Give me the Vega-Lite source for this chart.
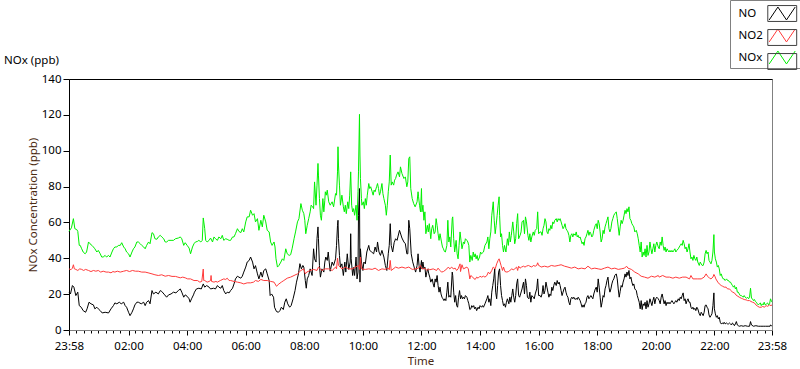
{
"$schema": "https://vega.github.io/schema/vega-lite/v6.json",
"width": 703, "height": 251,
"autosize": {"type": "none"},
"padding": {"left": 69, "top": 79, "right": 28, "bottom": 39},
"background": "white",
"config": {
 "font": "Noto Sans",
 "view": {"stroke": "#808080", "strokeWidth": 1},
 "axis": {"labelFont": "Noto Sans", "titleFont": "Noto Sans", "labelFontSize": 11.5, "titleFontSize": 11.5, "titleFontWeight": "normal", "grid": false, "labelColor": "black"},
 "legend": {"labelFont": "Noto Sans", "labelFontSize": 11.5, "labelColor": "black"}
},
"title": {"text": "NOx (ppb)", "anchor": "start", "frame": "group", "dx": -65, "dy": 78, "offset": 11, "fontSize": 11.5, "fontWeight": "normal", "font": "Noto Sans", "color": "black"},
"datasets": {
"no": [
{"t":-2,"v":21.1},{"t":1,"v":20.1},{"t":5,"v":24.8},{"t":8,"v":23.9},{"t":12,"v":19.2},{"t":16,"v":21.1},{"t":19,"v":13.6},{"t":23,"v":12.7},{"t":27,"v":10.8},{"t":32,"v":9.9},{"t":35,"v":11.8},{"t":39,"v":15.5},{"t":43,"v":14.6},{"t":48,"v":14},{"t":51,"v":11.8},{"t":55,"v":12.7},{"t":58,"v":11.8},{"t":62,"v":10.8},{"t":66,"v":9.5},{"t":72,"v":9.9},{"t":79,"v":9.5},{"t":84,"v":11.8},{"t":89,"v":13.6},{"t":92,"v":15.1},{"t":96,"v":14.6},{"t":101,"v":15.5},{"t":105,"v":14.6},{"t":110,"v":15.5},{"t":113,"v":13.6},{"t":116,"v":12.7},{"t":120,"v":9.9},{"t":123,"v":8},{"t":127,"v":9.9},{"t":130,"v":11.8},{"t":133,"v":14},{"t":137,"v":15.5},{"t":140,"v":15.5},{"t":146,"v":14.6},{"t":151,"v":15.5},{"t":154,"v":13.6},{"t":157,"v":15.5},{"t":161,"v":16.4},{"t":164,"v":14.6},{"t":168,"v":22},{"t":171,"v":20.1},{"t":176,"v":21.1},{"t":181,"v":20.1},{"t":185,"v":22},{"t":188,"v":21.5},{"t":194,"v":19.6},{"t":198,"v":18.3},{"t":202,"v":19.6},{"t":207,"v":20.1},{"t":212,"v":21.1},{"t":217,"v":20.7},{"t":222,"v":22},{"t":226,"v":22.9},{"t":229,"v":21.1},{"t":233,"v":18.3},{"t":236,"v":19.6},{"t":240,"v":18.8},{"t":244,"v":17.4},{"t":246,"v":15.5},{"t":249,"v":17.4},{"t":253,"v":19.6},{"t":255,"v":21.1},{"t":259,"v":22.9},{"t":264,"v":23.3},{"t":269,"v":22.9},{"t":273,"v":25.7},{"t":276,"v":23.9},{"t":280,"v":24.8},{"t":285,"v":23.9},{"t":288,"v":22.9},{"t":294,"v":23.3},{"t":298,"v":22.9},{"t":302,"v":24.8},{"t":305,"v":23.9},{"t":309,"v":23.3},{"t":312,"v":24.8},{"t":315,"v":22},{"t":319,"v":20.1},{"t":322,"v":21.1},{"t":326,"v":20.7},{"t":329,"v":22},{"t":333,"v":23.3},{"t":336,"v":25.7},{"t":339,"v":28.5},{"t":343,"v":30},{"t":346,"v":29.5},{"t":350,"v":28.9},{"t":353,"v":30},{"t":356,"v":32.3},{"t":360,"v":35.1},{"t":363,"v":37.9},{"t":367,"v":38.8},{"t":370,"v":40.7},{"t":374,"v":37.9},{"t":377,"v":34.1},{"t":380,"v":35.9},{"t":384,"v":31.3},{"t":387,"v":28.5},{"t":391,"v":32.3},{"t":394,"v":29.5},{"t":397,"v":33.2},{"t":401,"v":34.1},{"t":404,"v":31.3},{"t":408,"v":27.6},{"t":410,"v":19.2},{"t":413,"v":20.1},{"t":417,"v":18.3},{"t":419,"v":12.7},{"t":423,"v":10.3},{"t":427,"v":9.9},{"t":430,"v":10.8},{"t":433,"v":12.7},{"t":437,"v":11.4},{"t":440,"v":15.5},{"t":443,"v":17.4},{"t":446,"v":14.6},{"t":450,"v":12.7},{"t":453,"v":13.6},{"t":457,"v":17.4},{"t":461,"v":22},{"t":464,"v":26.7},{"t":468,"v":31.3},{"t":471,"v":37},{"t":474,"v":34.1},{"t":477,"v":36},{"t":479,"v":35.1},{"t":482,"v":27.6},{"t":484,"v":23.3},{"t":486,"v":28.5},{"t":489,"v":30.4},{"t":492,"v":34.1},{"t":496,"v":30.4},{"t":499,"v":45.3},{"t":501,"v":39.7},{"t":504,"v":37.9},{"t":506,"v":51},{"t":508,"v":57.5},{"t":509,"v":50.9},{"t":511,"v":36},{"t":513,"v":29.5},{"t":516,"v":34.1},{"t":520,"v":32.3},{"t":522,"v":37.9},{"t":524,"v":40.7},{"t":527,"v":38.8},{"t":529,"v":43.5},{"t":531,"v":37.9},{"t":533,"v":32.8},{"t":537,"v":37.9},{"t":540,"v":36},{"t":544,"v":39.7},{"t":546,"v":47.2},{"t":548,"v":58.4},{"t":549,"v":61.2},{"t":550,"v":50.9},{"t":552,"v":41.6},{"t":554,"v":35.1},{"t":557,"v":36.9},{"t":560,"v":30.4},{"t":563,"v":37.9},{"t":565,"v":32.3},{"t":568,"v":42.5},{"t":571,"v":33.8},{"t":574,"v":37.9},{"t":575,"v":53.7},{"t":576,"v":39.7},{"t":579,"v":30.4},{"t":581,"v":34.9},{"t":583,"v":30.4},{"t":586,"v":40.7},{"t":588,"v":28.5},{"t":590,"v":32.3},{"t":591,"v":64},{"t":593,"v":78.9},{"t":594,"v":26.7},{"t":595,"v":45.3},{"t":597,"v":37.9},{"t":600,"v":33.2},{"t":602,"v":37.9},{"t":605,"v":36.9},{"t":608,"v":43.5},{"t":612,"v":47.2},{"t":614,"v":44.4},{"t":618,"v":43.5},{"t":622,"v":42.5},{"t":625,"v":46.3},{"t":628,"v":43.5},{"t":630,"v":49.1},{"t":633,"v":43.5},{"t":636,"v":41.6},{"t":639,"v":44.4},{"t":643,"v":40.7},{"t":646,"v":36},{"t":649,"v":33.2},{"t":652,"v":42.5},{"t":654,"v":47.2},{"t":656,"v":59.3},{"t":658,"v":47.2},{"t":661,"v":43.5},{"t":664,"v":48.7},{"t":667,"v":50.9},{"t":670,"v":50},{"t":675,"v":55.6},{"t":680,"v":51.3},{"t":684,"v":49.1},{"t":687,"v":48.1},{"t":690,"v":42.5},{"t":692,"v":42.5},{"t":694,"v":61.2},{"t":696,"v":56.5},{"t":699,"v":42.5},{"t":702,"v":38},{"t":705,"v":35.1},{"t":708,"v":32.3},{"t":711,"v":36},{"t":713,"v":42.5},{"t":715,"v":36},{"t":717,"v":32.3},{"t":720,"v":38.8},{"t":721,"v":34.1},
{"t":723,"v":37.9},{"t":725,"v":34.1},{"t":727,"v":35.1},{"t":729,"v":29.5},{"t":731,"v":32.3},{"t":733,"v":34.1},{"t":735,"v":31.3},{"t":737,"v":29.5},{"t":739,"v":26.7},{"t":742,"v":28.5},{"t":744,"v":25.7},{"t":746,"v":23.9},{"t":748,"v":28.5},{"t":750,"v":26.7},{"t":752,"v":30.4},{"t":754,"v":24.8},{"t":756,"v":21.1},{"t":758,"v":23.9},{"t":760,"v":20.1},{"t":762,"v":18.3},{"t":764,"v":17.4},{"t":766,"v":16.4},{"t":768,"v":17.4},{"t":770,"v":16.4},{"t":772,"v":21.1},{"t":774,"v":26.7},{"t":776,"v":18.3},{"t":778,"v":19.2},{"t":780,"v":18.3},{"t":783,"v":32.3},{"t":784,"v":30.4},{"t":786,"v":21.1},{"t":788,"v":15.5},{"t":790,"v":19.2},{"t":792,"v":13.6},{"t":794,"v":12.7},{"t":796,"v":18.3},{"t":798,"v":22},{"t":800,"v":17.4},{"t":802,"v":19.2},{"t":804,"v":17.4},{"t":806,"v":18.3},{"t":808,"v":17.4},{"t":810,"v":19.2},{"t":813,"v":18.3},{"t":815,"v":16.4},{"t":817,"v":14.6},{"t":819,"v":11.4},{"t":821,"v":11.8},{"t":823,"v":13.6},{"t":825,"v":12.7},{"t":827,"v":13.6},{"t":829,"v":11.8},{"t":831,"v":12.7},{"t":833,"v":10.8},{"t":836,"v":12.7},{"t":838,"v":11.8},{"t":840,"v":13.6},{"t":843,"v":12.7},{"t":845,"v":13.6},{"t":847,"v":12.7},{"t":850,"v":14.6},{"t":854,"v":17.4},{"t":856,"v":19.2},{"t":858,"v":15.5},{"t":860,"v":17.4},{"t":862,"v":13.6},{"t":864,"v":21.1},{"t":866,"v":24.8},{"t":868,"v":28.5},{"t":870,"v":34.1},{"t":872,"v":21.1},{"t":874,"v":17.4},{"t":876,"v":24.8},{"t":878,"v":32.3},{"t":880,"v":34.1},{"t":882,"v":24.8},{"t":884,"v":19.2},{"t":886,"v":16.4},{"t":888,"v":13.6},{"t":890,"v":14.6},{"t":892,"v":12.7},{"t":894,"v":15.5},{"t":896,"v":17.4},{"t":899,"v":14.6},{"t":901,"v":18.3},{"t":903,"v":15.5},{"t":905,"v":19.2},{"t":907,"v":22.9},{"t":909,"v":18.3},{"t":911,"v":15.5},{"t":913,"v":19.2},{"t":915,"v":25.7},{"t":917,"v":28.5},{"t":919,"v":19.2},{"t":921,"v":18.3},{"t":923,"v":20.1},{"t":926,"v":22.9},{"t":929,"v":26.7},{"t":931,"v":20.1},{"t":933,"v":28.5},{"t":935,"v":24.8},{"t":937,"v":18.3},{"t":940,"v":17.4},{"t":942,"v":21.1},{"t":944,"v":15.5},{"t":946,"v":19.2},{"t":949,"v":18.3},{"t":951,"v":17.4},{"t":953,"v":20.1},{"t":956,"v":22.9},{"t":958,"v":28.5},{"t":960,"v":19.2},{"t":963,"v":19.2},
{"t":965,"v":18.3},{"t":967,"v":20.1},{"t":969,"v":24.8},{"t":971,"v":20.1},{"t":973,"v":22},{"t":975,"v":26.7},{"t":977,"v":23.9},{"t":979,"v":21.1},{"t":981,"v":18.3},{"t":983,"v":20.1},{"t":985,"v":19.2},{"t":987,"v":23.9},{"t":989,"v":22},{"t":991,"v":24.8},{"t":993,"v":26.7},{"t":996,"v":24.8},{"t":998,"v":27.6},{"t":1000,"v":25.7},{"t":1002,"v":26.7},{"t":1004,"v":24.8},{"t":1006,"v":22},{"t":1008,"v":19.2},{"t":1010,"v":21.1},{"t":1012,"v":22.9},{"t":1014,"v":23.9},{"t":1016,"v":21.1},{"t":1018,"v":19.2},{"t":1020,"v":18.3},{"t":1022,"v":15.5},{"t":1024,"v":14},{"t":1026,"v":17.4},{"t":1028,"v":18.3},{"t":1030,"v":17.4},{"t":1032,"v":18.3},{"t":1035,"v":17},{"t":1037,"v":17.7},{"t":1039,"v":17},{"t":1041,"v":18.3},{"t":1043,"v":17.4},{"t":1045,"v":16.4},{"t":1047,"v":14.6},{"t":1049,"v":12.7},{"t":1051,"v":14},{"t":1053,"v":12.7},{"t":1055,"v":14.6},{"t":1057,"v":15.5},{"t":1059,"v":18.3},{"t":1061,"v":19.2},{"t":1063,"v":17.4},{"t":1065,"v":18.3},{"t":1067,"v":19.2},{"t":1069,"v":18.3},{"t":1071,"v":17.4},{"t":1073,"v":20.1},{"t":1076,"v":22.9},{"t":1078,"v":23.9},{"t":1080,"v":21.1},{"t":1082,"v":28.5},{"t":1084,"v":23.9},{"t":1086,"v":18.3},{"t":1088,"v":12.7},{"t":1090,"v":15.5},{"t":1092,"v":19.2},{"t":1094,"v":18.3},{"t":1096,"v":22.9},{"t":1098,"v":24.8},{"t":1100,"v":27.6},{"t":1102,"v":29.5},{"t":1104,"v":23.9},{"t":1106,"v":21.1},{"t":1108,"v":22.9},{"t":1110,"v":25.7},{"t":1112,"v":27.6},{"t":1114,"v":28.5},{"t":1116,"v":30.4},{"t":1119,"v":31.3},{"t":1121,"v":28.5},{"t":1123,"v":22.9},{"t":1125,"v":18.3},{"t":1127,"v":21.6},{"t":1129,"v":24.8},{"t":1131,"v":23.9},{"t":1133,"v":26.7},{"t":1135,"v":28.5},{"t":1137,"v":31.3},{"t":1139,"v":29.5},{"t":1141,"v":32.3},{"t":1143,"v":30.4},{"t":1145,"v":33.2},{"t":1147,"v":28.5},{"t":1149,"v":29.5},{"t":1151,"v":26.7},{"t":1153,"v":24.8},{"t":1155,"v":25.7},{"t":1157,"v":22.9},{"t":1160,"v":22},{"t":1162,"v":19.2},{"t":1164,"v":17.4},{"t":1166,"v":15.5},{"t":1168,"v":11.8},{"t":1170,"v":16.4},{"t":1172,"v":11.4},{"t":1174,"v":14.6},{"t":1176,"v":13.6},{"t":1178,"v":15.5},{"t":1180,"v":11.8},{"t":1182,"v":16.4},{"t":1184,"v":12.7},{"t":1186,"v":14.6},{"t":1188,"v":17.4},{"t":1190,"v":15.5},{"t":1192,"v":13.6},{"t":1194,"v":16.4},{"t":1196,"v":18.3},{"t":1198,"v":14.6},{"t":1200,"v":17.4},{"t":1202,"v":18.3},{"t":1205,"v":17.4},
{"t":1207,"v":16.4},{"t":1209,"v":14.6},{"t":1211,"v":18.3},{"t":1213,"v":20.1},{"t":1215,"v":17.4},{"t":1217,"v":14.6},{"t":1219,"v":16.4},{"t":1221,"v":13.6},{"t":1223,"v":15.5},{"t":1225,"v":14.6},{"t":1227,"v":15.5},{"t":1229,"v":14.6},{"t":1231,"v":15.5},{"t":1233,"v":16.4},{"t":1235,"v":15.5},{"t":1237,"v":14.6},{"t":1239,"v":15.5},{"t":1241,"v":16.4},{"t":1243,"v":15.5},{"t":1246,"v":17.4},{"t":1248,"v":16.4},{"t":1250,"v":18.3},{"t":1252,"v":17.4},{"t":1254,"v":19.2},{"t":1256,"v":20.7},{"t":1258,"v":16.4},{"t":1260,"v":17.4},{"t":1262,"v":14.6},{"t":1264,"v":16.4},{"t":1266,"v":17.4},{"t":1268,"v":15.5},{"t":1270,"v":15.5},{"t":1272,"v":12.7},{"t":1274,"v":11.8},{"t":1276,"v":12.7},{"t":1278,"v":11.4},{"t":1280,"v":12.1},{"t":1282,"v":10.8},{"t":1284,"v":12.7},{"t":1286,"v":11.8},{"t":1289,"v":9},{"t":1291,"v":8},{"t":1293,"v":9.9},{"t":1295,"v":9},{"t":1297,"v":8},{"t":1299,"v":9.9},{"t":1301,"v":13.6},{"t":1303,"v":14},{"t":1305,"v":12.7},{"t":1307,"v":11.8},{"t":1309,"v":8.4},{"t":1311,"v":7.1},{"t":1313,"v":8},{"t":1315,"v":9},{"t":1317,"v":13.6},{"t":1319,"v":20.7},{"t":1320,"v":11.8},{"t":1322,"v":9},{"t":1324,"v":7.1},{"t":1326,"v":8},{"t":1328,"v":6.2},{"t":1330,"v":7.1},{"t":1332,"v":4.3},{"t":1334,"v":3.4},{"t":1336,"v":3.9},{"t":1338,"v":3.4},{"t":1340,"v":4.3},{"t":1342,"v":3.4},{"t":1345,"v":3.9},{"t":1347,"v":3.4},{"t":1349,"v":3.4},{"t":1351,"v":3.9},{"t":1353,"v":3.4},{"t":1355,"v":2.8},{"t":1357,"v":3.9},{"t":1359,"v":3.4},{"t":1361,"v":2.4},{"t":1363,"v":3.4},{"t":1365,"v":4.7},{"t":1367,"v":2.8},{"t":1369,"v":2.4},{"t":1371,"v":2.1},{"t":1375,"v":2.4},{"t":1379,"v":2.1},{"t":1383,"v":2.4},{"t":1388,"v":2.1},{"t":1392,"v":2.1},{"t":1394,"v":4.7},{"t":1396,"v":2.8},{"t":1400,"v":2.1},{"t":1405,"v":2.4},{"t":1410,"v":2.1},{"t":1415,"v":2.1},{"t":1420,"v":2.1},{"t":1425,"v":2.1},{"t":1430,"v":2.1},{"t":1434,"v":2.1},{"t":1435,"v":2.8},{"t":1437,"v":2.4},{"t":1438,"v":2.4}
],
"no2": [
{"t":-2,"v":34.1},{"t":2,"v":33.6},{"t":5,"v":34.5},{"t":7,"v":36.4},{"t":9,"v":34.1},{"t":12,"v":33.8},{"t":16,"v":33.2},{"t":20,"v":34.1},{"t":24,"v":33.8},{"t":28,"v":33.2},{"t":32,"v":33.8},{"t":38,"v":33.2},{"t":43,"v":32.6},{"t":48,"v":33.2},{"t":53,"v":32.8},{"t":58,"v":33.2},{"t":63,"v":32.3},{"t":68,"v":32.8},{"t":74,"v":32.3},{"t":79,"v":32.3},{"t":84,"v":31.9},{"t":88,"v":32.6},{"t":92,"v":32.3},{"t":97,"v":32.8},{"t":103,"v":32.3},{"t":110,"v":32.8},{"t":116,"v":33.2},{"t":122,"v":32.6},{"t":128,"v":33.2},{"t":134,"v":32.8},{"t":140,"v":32.8},{"t":147,"v":32.3},{"t":154,"v":32.3},{"t":160,"v":31.9},{"t":168,"v":31.3},{"t":174,"v":30.8},{"t":181,"v":30.4},{"t":188,"v":30.8},{"t":195,"v":30},{"t":202,"v":30.4},{"t":209,"v":29.9},{"t":216,"v":29.9},{"t":221,"v":29.5},{"t":226,"v":29.1},{"t":231,"v":29.5},{"t":236,"v":29.1},{"t":241,"v":28.5},{"t":247,"v":28.5},{"t":254,"v":27.6},{"t":261,"v":27.6},{"t":266,"v":26.7},{"t":270,"v":27.1},{"t":273,"v":34},{"t":274,"v":27.6},{"t":276,"v":27.6},{"t":281,"v":26.7},{"t":285,"v":27.1},{"t":288,"v":27.6},{"t":289,"v":30.4},{"t":290,"v":27.1},{"t":295,"v":26.7},{"t":299,"v":27.1},{"t":302,"v":26.7},{"t":308,"v":27.6},{"t":315,"v":28.5},{"t":319,"v":28.2},{"t":322,"v":28.9},{"t":326,"v":27.6},{"t":329,"v":27.6},{"t":336,"v":27.1},{"t":343,"v":26.7},{"t":350,"v":26.3},{"t":356,"v":25.7},{"t":363,"v":26.3},{"t":370,"v":26.3},{"t":376,"v":26.7},{"t":380,"v":27.6},{"t":386,"v":27.1},{"t":391,"v":28.2},{"t":397,"v":27.6},{"t":404,"v":27.6},{"t":411,"v":27.1},{"t":418,"v":26.7},{"t":423,"v":24.4},{"t":428,"v":25.7},{"t":433,"v":26.7},{"t":438,"v":27.6},{"t":445,"v":28.9},{"t":452,"v":29.5},{"t":459,"v":30.4},{"t":466,"v":31.3},{"t":473,"v":33.2},{"t":479,"v":34.1},{"t":482,"v":31.3},{"t":485,"v":32.3},{"t":492,"v":33.2},{"t":499,"v":33.8},{"t":506,"v":33.2},{"t":509,"v":35.1},{"t":516,"v":33.2},{"t":523,"v":34.1},{"t":530,"v":34.1},{"t":537,"v":33.2},{"t":544,"v":35.1},{"t":546,"v":34.1},{"t":548,"v":40.1},{"t":550,"v":36},{"t":557,"v":34.1},{"t":564,"v":35.1},{"t":571,"v":34.1},{"t":578,"v":34.1},{"t":585,"v":35.1},{"t":591,"v":36},{"t":593,"v":33.8},{"t":595,"v":40.7},{"t":597,"v":34.1},{"t":605,"v":33.8},{"t":612,"v":34.1},{"t":619,"v":33.8},{"t":625,"v":34.5},{"t":632,"v":33.2},{"t":639,"v":34.1},{"t":646,"v":33.8},{"t":652,"v":34.5},{"t":654,"v":33.6},{"t":656,"v":38.8},{"t":658,"v":33.2},{"t":667,"v":35.1},{"t":673,"v":34.5},{"t":680,"v":35.1},{"t":687,"v":34.5},{"t":694,"v":35.1},{"t":701,"v":33.8},{"t":707,"v":34.1},{"t":714,"v":34.5},{"t":718,"v":36},{"t":721,"v":34.1},{"t":724,"v":34.1},{"t":727,"v":34.5},{"t":731,"v":33.2},{"t":734,"v":34.1},{"t":737,"v":33.6},{"t":744,"v":34.1},{"t":751,"v":33.2},{"t":754,"v":34.5},{"t":758,"v":33.2},{"t":761,"v":32.3},{"t":765,"v":32.6},{"t":772,"v":34.1},{"t":775,"v":35.1},{"t":778,"v":34.1},{"t":782,"v":35.1},{"t":785,"v":34.1},{"t":789,"v":34.5},{"t":792,"v":33.2},{"t":795,"v":34.1},{"t":799,"v":36.9},{"t":800,"v":32.6},{"t":803,"v":36.4},{"t":806,"v":34.1},{"t":813,"v":35.1},{"t":816,"v":34.1},{"t":819,"v":28.5},{"t":821,"v":30.4},{"t":825,"v":29.5},{"t":828,"v":28.5},{"t":830,"v":28.2},{"t":833,"v":29.5},{"t":836,"v":28.9},{"t":840,"v":30},{"t":843,"v":29.5},{"t":847,"v":30},{"t":850,"v":29.5},{"t":854,"v":30.4},{"t":857,"v":32.3},{"t":860,"v":31.3},{"t":864,"v":33.2},{"t":867,"v":35.1},{"t":871,"v":34.1},{"t":874,"v":36.9},{"t":877,"v":38.8},{"t":879,"v":39.7},{"t":881,"v":37.9},{"t":883,"v":36},{"t":886,"v":33.2},{"t":888,"v":35.1},{"t":891,"v":32.6},{"t":895,"v":32.3},{"t":898,"v":32.6},{"t":901,"v":33.2},{"t":905,"v":34.1},{"t":908,"v":33.6},{"t":911,"v":34.1},{"t":915,"v":35.1},{"t":917,"v":33.2},{"t":919,"v":35.6},{"t":922,"v":34.5},{"t":925,"v":35.1},{"t":929,"v":35.6},{"t":932,"v":35.1},{"t":935,"v":35.6},{"t":939,"v":36},{"t":942,"v":35.6},{"t":946,"v":35.1},{"t":949,"v":36},{"t":953,"v":35.6},{"t":956,"v":36},{"t":958,"v":37.5},{"t":960,"v":36},{"t":963,"v":35.6},{"t":965,"v":35.1},{"t":972,"v":35.6},{"t":979,"v":35.1},{"t":986,"v":36},{"t":993,"v":35.6},{"t":1000,"v":36},{"t":1006,"v":36.4},{"t":1013,"v":35.6},{"t":1020,"v":35.1},{"t":1027,"v":34.5},{"t":1034,"v":35.1},{"t":1041,"v":34.1},{"t":1048,"v":34.5},{"t":1055,"v":34.1},{"t":1061,"v":35.6},{"t":1068,"v":34.1},{"t":1075,"v":34.5},{"t":1082,"v":34.1},{"t":1088,"v":33.8},{"t":1095,"v":34.5},{"t":1102,"v":35.1},{"t":1109,"v":34.1},{"t":1116,"v":34.5},{"t":1123,"v":33.8},{"t":1129,"v":34.1},{"t":1136,"v":34.5},{"t":1140,"v":35.6},{"t":1143,"v":34.5},{"t":1150,"v":33.8},{"t":1157,"v":32.3},{"t":1164,"v":31.3},{"t":1170,"v":30},{"t":1177,"v":29.5},{"t":1184,"v":28.9},{"t":1191,"v":30},{"t":1198,"v":29.5},{"t":1205,"v":30.4},
{"t":1207,"v":29.5},{"t":1214,"v":30.4},{"t":1221,"v":29.5},{"t":1228,"v":29.5},{"t":1235,"v":28.9},{"t":1241,"v":29.5},{"t":1248,"v":28.9},{"t":1255,"v":29.5},{"t":1262,"v":29.5},{"t":1269,"v":28.5},{"t":1272,"v":30.4},{"t":1276,"v":28.5},{"t":1286,"v":28.5},{"t":1293,"v":28.5},{"t":1299,"v":29.5},{"t":1303,"v":31.3},{"t":1306,"v":30},{"t":1310,"v":28.9},{"t":1313,"v":28.5},{"t":1317,"v":29.5},{"t":1319,"v":31},{"t":1321,"v":30},{"t":1323,"v":28.5},{"t":1327,"v":26.7},{"t":1330,"v":25.7},{"t":1334,"v":24.8},{"t":1337,"v":24.4},{"t":1340,"v":23.9},{"t":1344,"v":23.9},{"t":1347,"v":22.9},{"t":1351,"v":22.9},{"t":1354,"v":22},{"t":1357,"v":21.1},{"t":1361,"v":20.7},{"t":1364,"v":19.6},{"t":1368,"v":18.8},{"t":1371,"v":18.3},{"t":1375,"v":17.7},{"t":1378,"v":17.4},{"t":1381,"v":17},{"t":1385,"v":16.8},{"t":1388,"v":16.4},{"t":1392,"v":16.4},{"t":1395,"v":15.9},{"t":1398,"v":15.5},{"t":1402,"v":15.1},{"t":1405,"v":14},{"t":1409,"v":13.2},{"t":1412,"v":12.7},{"t":1416,"v":12.7},{"t":1419,"v":13.2},{"t":1422,"v":12.7},{"t":1426,"v":13.6},{"t":1429,"v":13.2},{"t":1433,"v":14},{"t":1436,"v":13.6},{"t":1438,"v":14}
],
"nox": [
{"t":-2,"v":55},{"t":3,"v":57},{"t":7,"v":62.1},{"t":10,"v":56.5},{"t":14,"v":56},{"t":16,"v":55},{"t":19,"v":47.2},{"t":21,"v":47.2},{"t":24,"v":45.3},{"t":27,"v":43.5},{"t":31,"v":42.5},{"t":34,"v":43.5},{"t":38,"v":49.1},{"t":41,"v":48.1},{"t":45,"v":47.2},{"t":48,"v":46.3},{"t":51,"v":45.3},{"t":55,"v":43.5},{"t":58,"v":44.4},{"t":62,"v":42.5},{"t":65,"v":40.7},{"t":68,"v":40.7},{"t":72,"v":41.6},{"t":75,"v":40.7},{"t":79,"v":41.6},{"t":82,"v":40.7},{"t":86,"v":43.5},{"t":89,"v":45.3},{"t":92,"v":46.3},{"t":96,"v":46.3},{"t":99,"v":47.2},{"t":103,"v":47.2},{"t":106,"v":48.7},{"t":110,"v":46.3},{"t":113,"v":45.3},{"t":116,"v":43.5},{"t":120,"v":42.5},{"t":123,"v":40.7},{"t":127,"v":43.5},{"t":130,"v":45.3},{"t":133,"v":46.3},{"t":137,"v":49.1},{"t":140,"v":49.1},{"t":144,"v":48.1},{"t":147,"v":47.2},{"t":151,"v":46.3},{"t":154,"v":45.3},{"t":157,"v":47.2},{"t":161,"v":49.1},{"t":164,"v":48.1},{"t":168,"v":54.3},{"t":171,"v":53.7},{"t":174,"v":50.9},{"t":178,"v":50.6},{"t":181,"v":51.9},{"t":185,"v":52.8},{"t":188,"v":51.9},{"t":192,"v":50.9},{"t":195,"v":49.1},{"t":198,"v":49.1},{"t":202,"v":50},{"t":207,"v":50},{"t":212,"v":50},{"t":216,"v":50.9},{"t":222,"v":51.3},{"t":226,"v":51.9},{"t":229,"v":50.9},{"t":233,"v":47.2},{"t":236,"v":48.7},{"t":240,"v":47.2},{"t":244,"v":45.7},{"t":247,"v":42.5},{"t":251,"v":46.3},{"t":254,"v":48.1},{"t":257,"v":49.1},{"t":261,"v":49.4},{"t":264,"v":50},{"t":268,"v":49.1},{"t":271,"v":50},{"t":273,"v":62.5},{"t":276,"v":56.5},{"t":278,"v":50},{"t":281,"v":49.1},{"t":285,"v":50},{"t":288,"v":51.3},{"t":292,"v":49.1},{"t":295,"v":51.9},{"t":298,"v":50.9},{"t":302,"v":50},{"t":305,"v":51.9},{"t":309,"v":50.9},{"t":312,"v":52.8},{"t":315,"v":50},{"t":319,"v":50.9},{"t":322,"v":50.6},{"t":326,"v":50},{"t":329,"v":50},{"t":333,"v":51.9},{"t":336,"v":51.9},{"t":339,"v":53.7},{"t":343,"v":56.5},{"t":346,"v":55},{"t":350,"v":54.3},{"t":353,"v":56.5},{"t":356,"v":54.7},{"t":360,"v":60.3},{"t":363,"v":63.1},{"t":367,"v":63.1},{"t":370,"v":66.8},{"t":374,"v":64},{"t":377,"v":64.9},{"t":380,"v":60.3},{"t":384,"v":62.1},{"t":387,"v":55.6},{"t":391,"v":61.2},{"t":394,"v":57.5},{"t":397,"v":64},{"t":401,"v":60.3},{"t":404,"v":55.6},{"t":408,"v":54.7},{"t":411,"v":49.1},{"t":414,"v":47.2},{"t":418,"v":49.1},{"t":420,"v":46.3},{"t":422,"v":39.7},{"t":425,"v":35.1},{"t":428,"v":36},{"t":432,"v":37.9},{"t":435,"v":39.7},{"t":438,"v":38.8},{"t":442,"v":45.3},{"t":445,"v":42.5},{"t":449,"v":41.6},{"t":452,"v":42},{"t":455,"v":45.3},{"t":459,"v":50.9},{"t":462,"v":54.7},{"t":466,"v":60.3},{"t":469,"v":62.1},{"t":473,"v":70.5},{"t":476,"v":66.8},{"t":479,"v":64.9},{"t":481,"v":61.2},{"t":483,"v":53.7},{"t":486,"v":58.4},{"t":489,"v":62.1},{"t":492,"v":65.9},{"t":494,"v":69.6},{"t":497,"v":68.7},{"t":499,"v":67.7},{"t":501,"v":82.6},{"t":504,"v":69.6},{"t":506,"v":80.8},{"t":508,"v":92.9},{"t":509,"v":86.4},{"t":511,"v":73.3},{"t":513,"v":64},{"t":515,"v":61.2},{"t":518,"v":73.3},{"t":520,"v":65.9},{"t":522,"v":72.4},{"t":523,"v":77.1},{"t":525,"v":75.2},{"t":527,"v":78},{"t":530,"v":71.5},{"t":533,"v":69.6},{"t":537,"v":71.5},{"t":540,"v":68.7},{"t":544,"v":76.1},{"t":546,"v":75.2},{"t":548,"v":88.2},{"t":549,"v":102.2},{"t":550,"v":92},{"t":552,"v":80.8},{"t":554,"v":69.6},{"t":557,"v":75.2},{"t":560,"v":68.7},{"t":562,"v":65.9},{"t":564,"v":69.6},{"t":566,"v":64.9},{"t":569,"v":71.5},{"t":571,"v":67.7},{"t":573,"v":75.2},{"t":575,"v":88.2},{"t":577,"v":69.6},{"t":579,"v":65.9},{"t":581,"v":67.7},{"t":583,"v":64},{"t":586,"v":69.6},{"t":588,"v":61.2},{"t":590,"v":77.1},{"t":591,"v":88.2},{"t":593,"v":120.3},{"t":594,"v":97.6},{"t":595,"v":84.5},{"t":597,"v":73.3},{"t":598,"v":69.6},{"t":601,"v":71.5},{"t":603,"v":67.7},{"t":605,"v":73.3},{"t":607,"v":69.6},{"t":609,"v":75.2},{"t":612,"v":81.7},{"t":614,"v":78.9},{"t":616,"v":79.9},{"t":619,"v":77.1},{"t":621,"v":75.2},{"t":623,"v":78},{"t":625,"v":77.1},{"t":628,"v":79.9},{"t":630,"v":81.7},{"t":632,"v":78.9},{"t":634,"v":75.2},{"t":636,"v":77.1},{"t":639,"v":81.7},{"t":641,"v":76.1},{"t":643,"v":73.3},{"t":646,"v":69.6},{"t":648,"v":64},{"t":650,"v":69.6},{"t":652,"v":77.1},{"t":654,"v":82.6},{"t":656,"v":97.6},{"t":658,"v":80.8},{"t":660,"v":82.6},{"t":663,"v":80.8},{"t":665,"v":83.6},{"t":667,"v":84.5},{"t":669,"v":86.4},{"t":672,"v":88.2},{"t":675,"v":85.4},{"t":677,"v":91},{"t":680,"v":87.3},{"t":684,"v":84.5},{"t":687,"v":85.4},{"t":690,"v":79.9},{"t":692,"v":82.6},{"t":694,"v":95.7},{"t":696,"v":96.6},{"t":698,"v":78.9},{"t":701,"v":73.3},{"t":704,"v":70.5},{"t":707,"v":68.7},{"t":711,"v":71.5},{"t":713,"v":77.1},{"t":714,"v":74.3},{"t":716,"v":69.6},{"t":718,"v":65.9},{"t":720,"v":78.9},{"t":721,"v":65.9},
{"t":723,"v":69.6},{"t":725,"v":61.2},{"t":727,"v":65.9},{"t":729,"v":53.7},{"t":732,"v":58.4},{"t":734,"v":54.7},{"t":736,"v":59.3},{"t":739,"v":50.9},{"t":741,"v":56.5},{"t":743,"v":58.4},{"t":746,"v":53.7},{"t":748,"v":54.7},{"t":750,"v":62.1},{"t":752,"v":58.4},{"t":754,"v":53.7},{"t":756,"v":50},{"t":758,"v":53.7},{"t":761,"v":49.1},{"t":763,"v":46.3},{"t":765,"v":45.3},{"t":767,"v":43.8},{"t":769,"v":43.5},{"t":772,"v":47.2},{"t":774,"v":61.2},{"t":776,"v":49.1},{"t":778,"v":51.9},{"t":780,"v":46.3},{"t":783,"v":62.1},{"t":784,"v":63.1},{"t":786,"v":50.9},{"t":788,"v":43.5},{"t":791,"v":50},{"t":793,"v":42.5},{"t":795,"v":39.7},{"t":797,"v":47.2},{"t":799,"v":54.7},{"t":801,"v":50},{"t":803,"v":45.3},{"t":806,"v":49.1},{"t":808,"v":48.1},{"t":810,"v":50.9},{"t":813,"v":50},{"t":815,"v":49.1},{"t":817,"v":47.2},{"t":819,"v":37.9},{"t":821,"v":41.6},{"t":824,"v":38.8},{"t":826,"v":43.5},{"t":828,"v":40.7},{"t":830,"v":42.5},{"t":832,"v":39.7},{"t":834,"v":41.6},{"t":836,"v":38.8},{"t":839,"v":40.7},{"t":841,"v":43.5},{"t":843,"v":42.5},{"t":847,"v":43.5},{"t":850,"v":47.2},{"t":854,"v":49.1},{"t":856,"v":51.9},{"t":858,"v":45.3},{"t":860,"v":50.9},{"t":862,"v":54.7},{"t":864,"v":64},{"t":867,"v":71.5},{"t":869,"v":61.2},{"t":871,"v":53.7},{"t":873,"v":58.4},{"t":875,"v":64},{"t":877,"v":69.6},{"t":879,"v":74.3},{"t":880,"v":64},{"t":882,"v":51.9},{"t":884,"v":53.7},{"t":886,"v":47.2},{"t":888,"v":43.5},{"t":890,"v":47.2},{"t":893,"v":43.5},{"t":896,"v":50.9},{"t":898,"v":47.2},{"t":900,"v":54.7},{"t":902,"v":49.1},{"t":904,"v":52.8},{"t":907,"v":60.3},{"t":909,"v":54.7},{"t":911,"v":48.1},{"t":913,"v":50.9},{"t":915,"v":59.3},{"t":917,"v":64.9},{"t":919,"v":50.9},{"t":922,"v":52.8},{"t":924,"v":54.7},{"t":926,"v":60.3},{"t":929,"v":61.2},{"t":931,"v":53.7},{"t":933,"v":63.1},{"t":935,"v":60.3},{"t":938,"v":52.8},{"t":940,"v":50},{"t":942,"v":53.7},{"t":944,"v":49.1},{"t":946,"v":51.9},{"t":949,"v":54.7},{"t":951,"v":52.8},{"t":953,"v":55.6},{"t":956,"v":56.5},{"t":958,"v":65.9},{"t":960,"v":53.7},{"t":963,"v":54.7},
{"t":965,"v":54.7},{"t":967,"v":52.8},{"t":969,"v":56.5},{"t":971,"v":58.4},{"t":973,"v":62.1},{"t":975,"v":60.3},{"t":977,"v":54.7},{"t":979,"v":53.7},{"t":981,"v":56.5},{"t":983,"v":55.6},{"t":985,"v":58.4},{"t":987,"v":56.5},{"t":989,"v":60.3},{"t":991,"v":59.3},{"t":993,"v":61.2},{"t":996,"v":62.1},{"t":998,"v":60.3},{"t":1000,"v":62.1},{"t":1002,"v":61.2},{"t":1004,"v":62.1},{"t":1006,"v":60.3},{"t":1008,"v":58.4},{"t":1010,"v":56.5},{"t":1012,"v":57.5},{"t":1014,"v":59.3},{"t":1016,"v":56.5},{"t":1018,"v":55.6},{"t":1020,"v":54.7},{"t":1022,"v":52.8},{"t":1024,"v":49.1},{"t":1026,"v":52.8},{"t":1028,"v":53.7},{"t":1030,"v":51.9},{"t":1032,"v":53.7},{"t":1035,"v":52.8},{"t":1037,"v":54.7},{"t":1039,"v":51.9},{"t":1041,"v":52.8},{"t":1043,"v":51.3},{"t":1045,"v":51.9},{"t":1047,"v":50},{"t":1049,"v":48.1},{"t":1051,"v":49.1},{"t":1053,"v":47.2},{"t":1055,"v":50.9},{"t":1057,"v":51.9},{"t":1059,"v":53.7},{"t":1061,"v":55.6},{"t":1063,"v":52.8},{"t":1065,"v":54.7},{"t":1067,"v":53.7},{"t":1069,"v":51.9},{"t":1071,"v":52.8},{"t":1073,"v":55.6},{"t":1076,"v":58.4},{"t":1078,"v":59.3},{"t":1080,"v":56.5},{"t":1082,"v":61.2},{"t":1084,"v":59.3},{"t":1086,"v":54.7},{"t":1088,"v":49.1},{"t":1090,"v":50.9},{"t":1092,"v":55.6},{"t":1094,"v":53.7},{"t":1096,"v":57.5},{"t":1098,"v":59.3},{"t":1100,"v":61.2},{"t":1102,"v":63.1},{"t":1104,"v":56.5},{"t":1106,"v":54.7},{"t":1108,"v":56.5},{"t":1110,"v":60.3},{"t":1112,"v":62.1},{"t":1114,"v":64},{"t":1116,"v":64.9},{"t":1119,"v":65.9},{"t":1121,"v":62.1},{"t":1123,"v":57.5},{"t":1125,"v":52.8},{"t":1127,"v":57.5},{"t":1129,"v":61.2},{"t":1131,"v":59.3},{"t":1133,"v":61.2},{"t":1135,"v":64},{"t":1137,"v":66.8},{"t":1139,"v":64.9},{"t":1141,"v":67.7},{"t":1143,"v":65.9},{"t":1145,"v":68.7},{"t":1147,"v":62.1},{"t":1149,"v":61.2},{"t":1151,"v":59.3},{"t":1153,"v":58.4},{"t":1155,"v":57.5},{"t":1157,"v":54.7},{"t":1160,"v":55.6},{"t":1162,"v":53.7},{"t":1164,"v":50.9},{"t":1166,"v":47.2},{"t":1168,"v":43.5},{"t":1170,"v":49.1},{"t":1172,"v":40.7},{"t":1174,"v":43.5},{"t":1176,"v":41.6},{"t":1178,"v":45.3},{"t":1180,"v":40.7},{"t":1182,"v":47.2},{"t":1184,"v":41.6},{"t":1186,"v":43.5},{"t":1188,"v":49.1},{"t":1190,"v":45.3},{"t":1192,"v":42.5},{"t":1194,"v":45.3},{"t":1196,"v":48.1},{"t":1198,"v":43.5},{"t":1200,"v":47.2},{"t":1202,"v":49.1},{"t":1205,"v":46.3},
{"t":1207,"v":45.3},{"t":1209,"v":49.1},{"t":1211,"v":47.2},{"t":1213,"v":51.9},{"t":1215,"v":47.2},{"t":1217,"v":44.4},{"t":1219,"v":46.3},{"t":1221,"v":43.5},{"t":1223,"v":45.3},{"t":1225,"v":44.4},{"t":1227,"v":43.5},{"t":1229,"v":44.4},{"t":1231,"v":43.5},{"t":1233,"v":44.4},{"t":1235,"v":43.5},{"t":1237,"v":44.4},{"t":1239,"v":45.3},{"t":1241,"v":43.5},{"t":1243,"v":44.4},{"t":1246,"v":45.3},{"t":1248,"v":46.3},{"t":1250,"v":47.2},{"t":1252,"v":48.1},{"t":1254,"v":47.2},{"t":1256,"v":50},{"t":1258,"v":48.1},{"t":1260,"v":45.3},{"t":1262,"v":46.3},{"t":1264,"v":43.5},{"t":1266,"v":45.3},{"t":1268,"v":48.1},{"t":1270,"v":43.5},{"t":1272,"v":39.7},{"t":1274,"v":40.7},{"t":1276,"v":38.8},{"t":1278,"v":41.6},{"t":1280,"v":39.7},{"t":1282,"v":38.8},{"t":1284,"v":40.7},{"t":1286,"v":37.9},{"t":1289,"v":36},{"t":1291,"v":37.9},{"t":1293,"v":36.9},{"t":1295,"v":36},{"t":1297,"v":36},{"t":1299,"v":37.9},{"t":1301,"v":42.5},{"t":1303,"v":44.4},{"t":1305,"v":42.5},{"t":1307,"v":43.5},{"t":1309,"v":38.8},{"t":1311,"v":37.9},{"t":1313,"v":36.9},{"t":1315,"v":38.8},{"t":1317,"v":43.5},{"t":1319,"v":53.2},{"t":1320,"v":43.5},{"t":1322,"v":39.7},{"t":1324,"v":37.9},{"t":1326,"v":35.1},{"t":1328,"v":36},{"t":1330,"v":34.1},{"t":1332,"v":30.4},{"t":1334,"v":31.3},{"t":1336,"v":29.5},{"t":1338,"v":28.5},{"t":1340,"v":28.5},{"t":1342,"v":27.6},{"t":1345,"v":28.5},{"t":1347,"v":27.6},{"t":1349,"v":27.6},{"t":1351,"v":26.7},{"t":1353,"v":26.7},{"t":1355,"v":25.7},{"t":1357,"v":24.8},{"t":1359,"v":23.9},{"t":1361,"v":24.8},{"t":1363,"v":22.9},{"t":1365,"v":23.9},{"t":1367,"v":21.1},{"t":1369,"v":21.1},{"t":1371,"v":20.1},{"t":1373,"v":19.2},{"t":1375,"v":19.2},{"t":1377,"v":18.8},{"t":1379,"v":18.3},{"t":1381,"v":19.2},{"t":1383,"v":18.3},{"t":1386,"v":17.7},{"t":1388,"v":18.3},{"t":1390,"v":17.4},{"t":1392,"v":18.3},{"t":1394,"v":23.3},{"t":1396,"v":17.7},{"t":1398,"v":17.4},{"t":1400,"v":16.4},{"t":1402,"v":17},{"t":1404,"v":15.9},{"t":1406,"v":15.5},{"t":1408,"v":14.6},{"t":1410,"v":14},{"t":1412,"v":14.6},{"t":1414,"v":15.1},{"t":1416,"v":13.6},{"t":1418,"v":14.6},{"t":1420,"v":14},{"t":1422,"v":15.5},{"t":1424,"v":14},{"t":1427,"v":14.6},{"t":1429,"v":15.1},{"t":1431,"v":14},{"t":1433,"v":14.6},{"t":1435,"v":17.4},{"t":1437,"v":15.9},{"t":1438,"v":15.5}
]
},
"resolve": {"axis": {"x": "independent"}},
"layer": [
{
 "data": {"name": "no"},
 "mark": {"type": "line", "strokeWidth": 1},
 "encoding": {
  "x": {"field": "t", "type": "quantitative", "scale": {"domain": [-2, 1438], "nice": false, "zero": false},
   "axis": {"orient": "bottom", "title": "Time", "titleColor": "#4a2a12", "titlePadding": 4,
    "values": [-2,120,240,360,480,600,720,840,960,1080,1200,1320,1438,13,28,43,58,73,88,103,133,148,163,178,193,208,223,253,268,283,298,313,328,343,373,388,403,418,433,448,463,493,508,523,538,553,568,583,613,628,643,658,673,688,703,733,748,763,778,793,808,823,853,868,883,898,913,928,943,973,988,1003,1018,1033,1048,1063,1093,1108,1123,1138,1153,1168,1183,1213,1228,1243,1258,1273,1288,1303,1333,1348,1363,1378,1393,1408,1423],
    "labelExpr": "datum.value == -2 || datum.value == 1438 ? '23:58' : (datum.value % 120 == 0 ? format(datum.value / 60, '02d') + ':00' : '')",
    "labelOverlap": false, "labelBound": false, "labelFlush": false, "labelPadding": 5,
    "tickSize": {"condition": {"test": "datum.value == -2 || datum.value == 1438 || datum.value % 120 == 0", "value": 5}, "value": 3},
    "tickColor": "black", "tickWidth": 1, "domainColor": "#808080", "grid": false}},
  "y": {"field": "v", "type": "quantitative", "scale": {"domain": [0, 140], "nice": false},
   "axis": {"values": [0,20,40,60,80,100,120,140], "tickSize": 6, "tickColor": "black", "domainColor": "black", "labelPadding": 2, "title": "NOx Concentration (ppb)", "titleColor": "#4a2a12", "titlePadding": 3, "grid": false}},
  "stroke": {"datum": "NO", "type": "nominal",
   "scale": {"domain": ["NO", "NO2", "NOx"], "range": ["#000000", "#FF3B3B", "#00F000"]},
   "legend": {"orient": "none", "legendX": 661, "legendY": -79, "title": null, "padding": 2, "strokeColor": "#808080",
    "symbolType": "M2.39,0.6L3.2,-0.6L4,0.6L4.81,-0.6", "symbolSize": 462, "symbolStrokeWidth": 1, "symbolFillColor": "transparent",
    "labelOffset": -16.5, "rowPadding": 2, "labelFontSize": 11.5}},
  "strokeWidth": {"datum": "a", "type": "ordinal",
   "scale": {"domain": ["a", "b", "c"], "range": [1, 1, 1]},
   "legend": {"orient": "none", "legendX": 661, "legendY": -79, "title": null, "padding": 2,
    "symbolType": "M2.26,-0.74H4.95V0.74H2.26Z", "symbolSize": 462, "symbolStrokeColor": "#404040", "symbolFillColor": "transparent",
    "labelOffset": -16.5, "rowPadding": 2, "labelExpr": "''", "labelFontSize": 11.5,
    "encode": {"symbols": {"update": {"stroke": {"value": "#404040"}, "fill": {"value": "transparent"}}}}}}
 }
},
{
 "data": {"name": "no2"},
 "mark": {"type": "line", "strokeWidth": 1},
 "encoding": {
  "x": {"field": "t", "type": "quantitative", "axis": {"orient": "top", "labels": false, "ticks": false, "domain": true, "domainColor": "black", "title": null, "grid": false}},
  "y": {"field": "v", "type": "quantitative",
   "axis": {"values": [0,20,40,60,80,100,120,140], "tickSize": 6, "tickColor": "black", "domainColor": "black", "labelPadding": 2, "title": "NOx Concentration (ppb)", "titleColor": "#4a2a12", "titlePadding": 3, "grid": false}},
  "stroke": {"datum": "NO2", "type": "nominal"},
  "strokeWidth": {"datum": "b", "type": "ordinal"}
 }
},
{
 "data": {"name": "nox"},
 "mark": {"type": "line", "strokeWidth": 1},
 "encoding": {
  "x": {"field": "t", "type": "quantitative", "axis": null},
  "y": {"field": "v", "type": "quantitative",
   "axis": {"values": [0,20,40,60,80,100,120,140], "tickSize": 6, "tickColor": "black", "domainColor": "black", "labelPadding": 2, "title": "NOx Concentration (ppb)", "titleColor": "#4a2a12", "titlePadding": 3, "grid": false}},
  "stroke": {"datum": "NOx", "type": "nominal"},
  "strokeWidth": {"datum": "c", "type": "ordinal"}
 }
}
]
}
